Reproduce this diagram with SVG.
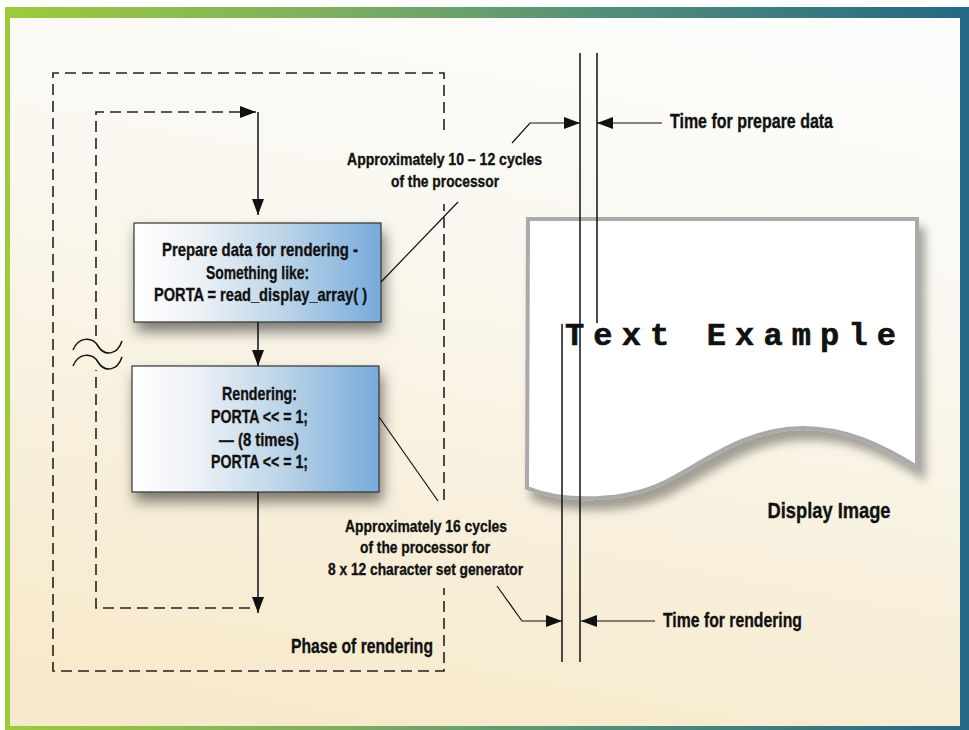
<svg xmlns="http://www.w3.org/2000/svg" width="969" height="730" viewBox="0 0 969 730">
  <defs>
    <linearGradient id="border" x1="0" y1="0" x2="1" y2="0">
      <stop offset="0" stop-color="#9ccb3a"/>
      <stop offset="0.35" stop-color="#7cae62"/>
      <stop offset="0.65" stop-color="#4f8c7a"/>
      <stop offset="1" stop-color="#246886"/>
    </linearGradient>
    <linearGradient id="bg" x1="0.6" y1="0" x2="0.35" y2="1">
      <stop offset="0" stop-color="#fcfcfa"/>
      <stop offset="0.35" stop-color="#f9f7ee"/>
      <stop offset="1" stop-color="#f7e9cb"/>
    </linearGradient>
    <linearGradient id="boxfill" x1="0" y1="0" x2="1" y2="0">
      <stop offset="0" stop-color="#ffffff"/>
      <stop offset="0.25" stop-color="#eef2f7"/>
      <stop offset="0.6" stop-color="#bdd5e8"/>
      <stop offset="1" stop-color="#78aadb"/>
    </linearGradient>
    <filter id="shadow" x="-20%" y="-20%" width="150%" height="160%">
      <feDropShadow dx="3" dy="9" stdDeviation="7" flood-color="#000" flood-opacity="0.5"/>
    </filter>
    <filter id="pshadow" x="-10%" y="-10%" width="130%" height="140%">
      <feDropShadow dx="6" dy="10" stdDeviation="5" flood-color="#000" flood-opacity="0.35"/>
    </filter>
    <marker id="ah" viewBox="0 0 16 12" refX="16" refY="6" markerWidth="16" markerHeight="12" markerUnits="userSpaceOnUse" orient="auto">
      <path d="M0,0 L16,6 L0,12 Z" fill="#111"/>
    </marker>
    <style>
      .t { font-family: "Liberation Sans Narrow", "Liberation Sans", Arial, sans-serif; font-weight: bold; fill: #111; stroke: #111; stroke-width: 0.35; }
      .box { fill: url(#boxfill); stroke: #333; stroke-width: 1.2; filter: url(#shadow); }
      .dash { fill: none; stroke: #222; stroke-width: 1.6; stroke-dasharray: 11 6; }
      .ln { fill: none; stroke: #111; stroke-width: 1.5; }
      .thin { fill: none; stroke: #111; stroke-width: 1.2; }
    </style>
  </defs>

  <!-- frame -->
  <rect x="5" y="7" width="964" height="723" fill="url(#border)"/>
  <rect x="10" y="18" width="950" height="708" fill="url(#bg)"/>

  <!-- phase of rendering region -->
  <g id="phase">
    <path class="dash" d="M444,130 V73 H53 V671 H444 V588"/>
    <path class="dash" d="M444,500 V204"/>
    <text class="t" x="362" y="653" font-size="21" text-anchor="middle" textLength="142" lengthAdjust="spacingAndGlyphs">Phase of rendering</text>
  </g>

  <!-- break symbol -->
  <g id="break">
    <path class="ln" d="M73,350 C78,337 92,336 98,346 C104,356 117,356 122,341" stroke-width="1.8"/>
    <path class="ln" d="M73,366 C78,353 92,352 98,362 C104,372 117,372 122,357" stroke-width="1.8"/>
  </g>

  <!-- display image -->
  <g id="display">
    <path d="M528,219 H917 V467 C880,444 845,428 803,428 C745,428 705,462 665,482 C625,502 565,503 527,488 Z" fill="#ffffff" stroke="#aaaaaa" stroke-width="4" filter="url(#pshadow)"/>
    <text x="565" y="345" font-family="Liberation Mono, Courier New, monospace" font-weight="bold" font-size="32" fill="#111" stroke="#111" stroke-width="0.6" textLength="331" lengthAdjust="spacing">Text Example</text>
    <text class="t" x="829" y="518" font-size="22" text-anchor="middle" textLength="123" lengthAdjust="spacingAndGlyphs">Display Image</text>
  </g>

  <!-- box 1 -->
  <g id="prepare">
    <rect class="box" x="134" y="223" width="247" height="99"/>
    <text class="t" x="260" y="256" font-size="19" text-anchor="middle" textLength="196" lengthAdjust="spacingAndGlyphs">Prepare data for rendering -</text>
    <text class="t" x="257.5" y="279" font-size="19" text-anchor="middle" textLength="103" lengthAdjust="spacingAndGlyphs">Something like:</text>
    <text class="t" x="260.5" y="301" font-size="19" text-anchor="middle" textLength="213" lengthAdjust="spacingAndGlyphs">PORTA = read_display_array( )</text>
  </g>

  <!-- box 2 -->
  <g id="rendering">
    <rect class="box" x="132" y="366" width="247" height="126"/>
    <text class="t" x="259.5" y="400" font-size="19" text-anchor="middle" textLength="75" lengthAdjust="spacingAndGlyphs">Rendering:</text>
    <text class="t" x="259.5" y="423" font-size="19" text-anchor="middle" textLength="97" lengthAdjust="spacingAndGlyphs">PORTA &lt;&lt; = 1;</text>
    <text class="t" x="259" y="446" font-size="19" text-anchor="middle" textLength="80" lengthAdjust="spacingAndGlyphs">— (8 times)</text>
    <text class="t" x="259.5" y="468" font-size="19" text-anchor="middle" textLength="97" lengthAdjust="spacingAndGlyphs">PORTA &lt;&lt; = 1;</text>
  </g>

  <!-- callouts -->
  <g id="callout-prepare">
    <text class="t" x="444.5" y="165" font-size="17" text-anchor="middle" textLength="195" lengthAdjust="spacingAndGlyphs">Approximately 10 – 12 cycles</text>
    <text class="t" x="445" y="187" font-size="17" text-anchor="middle" textLength="108" lengthAdjust="spacingAndGlyphs">of the processor</text>
  </g>
  <g id="callout-render">
    <text class="t" x="426" y="532" font-size="17" text-anchor="middle" textLength="162" lengthAdjust="spacingAndGlyphs">Approximately 16 cycles</text>
    <text class="t" x="425" y="553" font-size="17" text-anchor="middle" textLength="130" lengthAdjust="spacingAndGlyphs">of the processor for</text>
    <text class="t" x="425.5" y="575" font-size="17" text-anchor="middle" textLength="195" lengthAdjust="spacingAndGlyphs">8 x 12 character set generator</text>
  </g>
  <g id="label-prepare">
    <text class="t" x="670" y="128" font-size="20" textLength="163" lengthAdjust="spacingAndGlyphs">Time for prepare data</text>
  </g>
  <g id="label-render">
    <text class="t" x="663" y="627" font-size="21" textLength="139" lengthAdjust="spacingAndGlyphs">Time for rendering</text>
  </g>

  <!-- connectors -->
  <g id="connectors">
    <path class="dash" d="M96,336 V112 H256" marker-end="url(#ah)"/>
    <path class="dash" d="M250,608 H96 V370"/>
    <path class="ln" d="M258,112 V215" marker-end="url(#ah)"/>
    <path class="ln" d="M258,322 V366" marker-end="url(#ah)"/>
    <path class="ln" d="M258,492 V613" marker-end="url(#ah)"/>
    <path class="thin" d="M381,282 L458,202"/>
    <path class="thin" d="M379,417 L438,501"/>
    <path class="ln" d="M580,53 V662"/>
    <path class="ln" d="M597,53 V323"/>
    <path class="ln" d="M562,324 V662"/>
    <path class="thin" d="M512,143 L530,123 H580" marker-end="url(#ah)"/>
    <path class="thin" d="M662,123 H597" marker-end="url(#ah)"/>
    <path class="thin" d="M497,586 L522,621 H562" marker-end="url(#ah)"/>
    <path class="thin" d="M655,621 H581" marker-end="url(#ah)"/>
  </g>
</svg>
